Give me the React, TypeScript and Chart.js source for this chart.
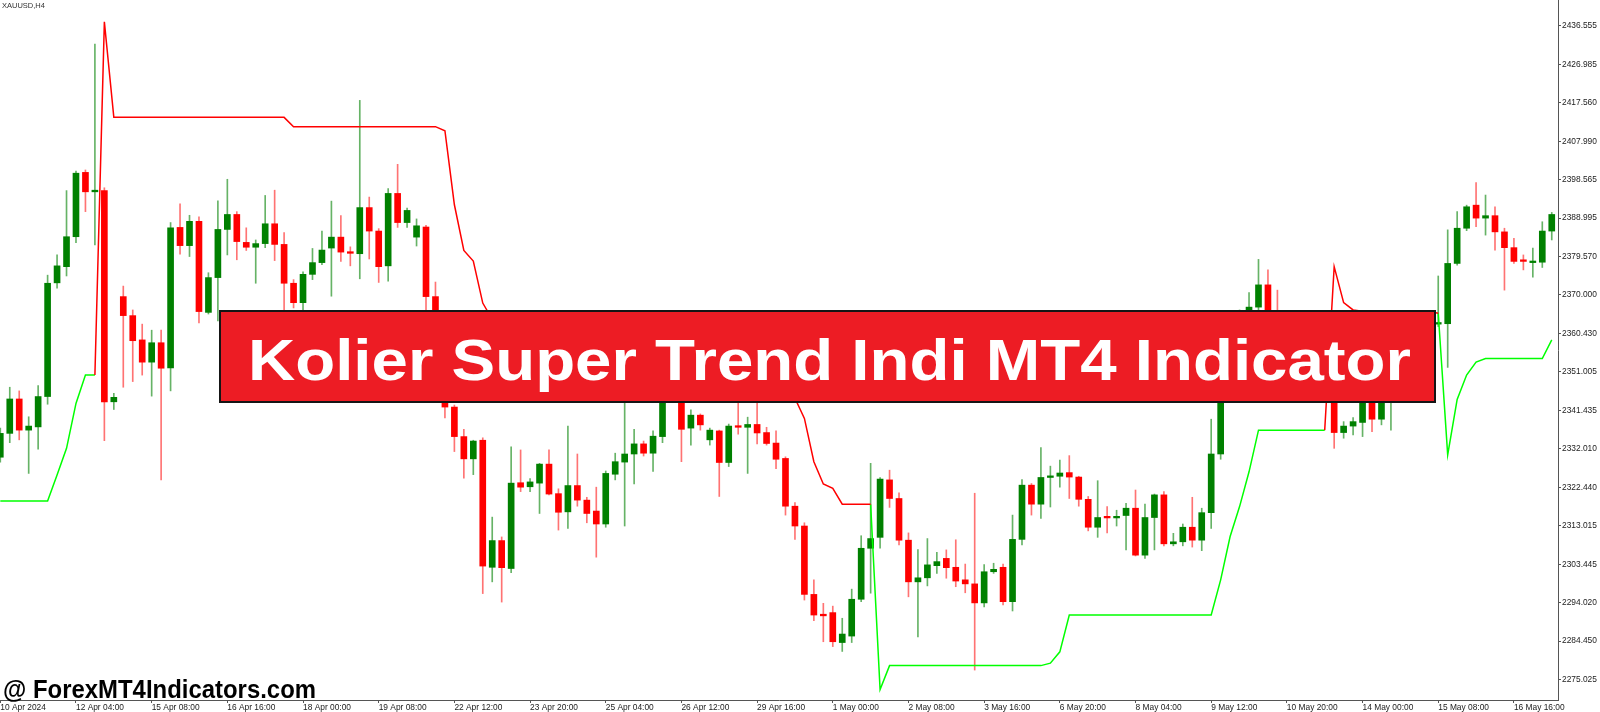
import React, { useEffect, useRef } from "react";
import { Chart, registerables } from "chart.js";

Chart.register(...registerables);

// ---------- DATA (XAUUSD H4 candles) ----------
const barOpen = [
  2329.9, 2335.8, 2344.3, 2336.6, 2337.4, 2344.9, 2373.0, 2377.0, 2384.4, 2400.3,
  2395.5, 2395.8, 2343.6, 2369.6, 2364.9, 2358.9, 2353.4, 2358.2, 2352.0, 2386.7,
  2382.2, 2388.2, 2365.7, 2374.3, 2386.2, 2389.9, 2383.0, 2381.8, 2382.7, 2387.6,
  2382.5, 2372.9, 2368.1, 2375.1, 2378.0, 2381.6, 2384.3, 2380.6, 2380.2, 2391.6,
  2385.8, 2377.2, 2395.1, 2387.9, 2384.3, 2386.8, 2369.6, 2358.9, 2342.3, 2335.0,
  2329.5, 2334.1, 2302.7, 2309.3, 2302.4, 2323.6, 2322.6, 2323.5, 2328.2, 2320.9,
  2316.4, 2322.9, 2319.3, 2316.6, 2313.4, 2325.7, 2328.7, 2330.7, 2333.2, 2330.9,
  2335.0, 2347.8, 2351.9, 2337.1, 2340.3, 2334.2, 2336.4, 2328.6, 2337.6, 2337.3,
  2338.0, 2336.0, 2333.4, 2329.6, 2317.8, 2312.9, 2296.0, 2291.1, 2291.5, 2284.1,
  2285.7, 2294.8, 2307.4, 2310.1, 2324.3, 2319.7, 2309.4, 2299.1, 2300.1, 2303.1,
  2304.9, 2302.7, 2299.6, 2298.6, 2293.9, 2301.6, 2302.7, 2294.2, 2309.6, 2323.0,
  2318.3, 2324.9, 2325.2, 2326.1, 2325.0, 2319.5, 2312.6, 2315.2, 2314.9, 2315.5,
  2317.3, 2305.7, 2315.0, 2320.6, 2308.5, 2309.0, 2312.6, 2309.4, 2316.2, 2330.7,
  2346.5, 2355.2, 2365.1, 2367.0, 2372.5, 2361.3, 2356.4, 2352.7, 2355.9, 2351.0,
  2347.8, 2349.5, 2336.0, 2337.6, 2338.5, 2345.3, 2339.3, 2345.3, 2351.5, 2356.4,
  2353.9, 2359.4, 2362.8, 2362.9, 2377.8, 2386.5, 2392.2, 2389.0, 2389.6, 2385.6,
  2381.7, 2378.5, 2378.0, 2378.1, 2385.8,
];

const barHigh = [
  2337.1, 2347.2, 2346.3, 2339.9, 2347.6, 2374.9, 2379.9, 2395.8, 2400.6, 2400.9,
  2432.0, 2396.5, 2345.7, 2372.2, 2366.3, 2362.8, 2361.3, 2361.3, 2387.9, 2392.5,
  2389.7, 2389.3, 2375.5, 2393.3, 2398.6, 2390.6, 2386.6, 2383.6, 2394.6, 2395.9,
  2385.4, 2373.8, 2375.7, 2381.5, 2385.8, 2393.2, 2389.6, 2381.9, 2418.1, 2394.2,
  2386.4, 2396.3, 2402.3, 2391.5, 2388.8, 2387.2, 2373.2, 2360.1, 2342.8, 2336.8,
  2334.1, 2334.7, 2315.1, 2310.2, 2332.5, 2331.7, 2324.6, 2328.4, 2331.7, 2322.1,
  2337.6, 2330.7, 2320.0, 2322.5, 2326.5, 2330.9, 2344.5, 2336.8, 2333.9, 2336.4,
  2350.2, 2355.2, 2353.9, 2341.6, 2340.6, 2337.1, 2336.6, 2338.1, 2344.5, 2339.8,
  2344.0, 2337.3, 2336.4, 2330.0, 2318.7, 2313.7, 2299.6, 2293.8, 2293.1, 2290.1,
  2297.3, 2310.5, 2328.4, 2324.9, 2326.7, 2321.1, 2311.2, 2307.1, 2309.8, 2306.4,
  2307.0, 2309.5, 2303.5, 2321.0, 2303.4, 2303.7, 2303.5, 2315.6, 2324.4, 2323.4,
  2332.3, 2327.7, 2329.2, 2330.3, 2325.2, 2320.2, 2324.1, 2317.7, 2316.8, 2318.5,
  2321.8, 2318.3, 2320.8, 2321.4, 2311.1, 2313.4, 2320.0, 2317.3, 2339.3, 2347.7,
  2356.4, 2366.3, 2370.6, 2378.8, 2376.2, 2371.2, 2357.6, 2357.6, 2356.9, 2351.9,
  2352.7, 2351.5, 2338.7, 2339.7, 2346.5, 2347.0, 2347.7, 2353.4, 2358.4, 2358.9,
  2361.3, 2364.3, 2374.7, 2386.1, 2390.6, 2392.2, 2397.8, 2394.7, 2391.8, 2386.5,
  2384.0, 2379.9, 2381.6, 2388.1, 2390.4,
];

const barLow = [
  2328.7, 2333.5, 2334.2, 2325.9, 2331.9, 2343.0, 2371.7, 2374.7, 2382.9, 2390.6,
  2382.4, 2334.0, 2341.7, 2347.2, 2348.6, 2350.2, 2345.0, 2324.3, 2346.3, 2380.1,
  2379.5, 2363.1, 2365.3, 2363.6, 2379.9, 2378.7, 2381.0, 2372.9, 2381.7, 2378.5,
  2365.8, 2366.8, 2366.0, 2373.8, 2377.5, 2369.7, 2378.3, 2377.2, 2374.0, 2378.9,
  2373.1, 2373.4, 2386.7, 2386.7, 2382.1, 2365.1, 2356.4, 2339.6, 2331.3, 2324.7,
  2325.6, 2296.2, 2299.1, 2294.1, 2301.4, 2321.4, 2321.4, 2316.0, 2320.6, 2311.9,
  2312.3, 2317.8, 2313.7, 2305.2, 2312.6, 2324.3, 2312.9, 2323.3, 2330.2, 2326.4,
  2333.5, 2346.0, 2328.8, 2332.9, 2336.6, 2332.9, 2320.2, 2327.6, 2335.6, 2325.9,
  2333.2, 2332.9, 2327.1, 2315.6, 2309.6, 2294.6, 2289.5, 2284.3, 2283.1, 2281.9,
  2284.1, 2294.2, 2296.3, 2307.4, 2317.5, 2308.2, 2295.4, 2285.5, 2298.1, 2301.2,
  2300.0, 2297.9, 2296.4, 2277.3, 2292.9, 2301.2, 2293.4, 2291.9, 2308.2, 2315.6,
  2314.8, 2317.6, 2322.5, 2319.7, 2317.8, 2311.7, 2310.1, 2311.2, 2312.9, 2307.0,
  2305.5, 2304.9, 2307.0, 2308.0, 2308.0, 2308.0, 2307.7, 2306.8, 2312.3, 2329.4,
  2345.3, 2353.9, 2363.8, 2365.8, 2358.9, 2353.9, 2351.0, 2351.5, 2349.0, 2346.0,
  2344.5, 2332.1, 2334.6, 2335.4, 2335.0, 2336.2, 2337.9, 2336.6, 2350.2, 2351.9,
  2352.7, 2357.6, 2362.2, 2352.1, 2377.4, 2385.9, 2386.9, 2384.8, 2381.1, 2371.2,
  2377.8, 2376.2, 2374.4, 2376.8, 2383.6,
];

const barClose = [
  2335.8, 2344.3, 2336.6, 2337.6, 2344.9, 2372.9, 2377.2, 2384.4, 2400.1, 2395.5,
  2395.9, 2343.6, 2344.7, 2364.9, 2358.7, 2353.4, 2358.2, 2351.9, 2386.6, 2382.2,
  2388.2, 2365.9, 2374.3, 2386.2, 2389.9, 2383.2, 2381.8, 2382.7, 2387.6, 2382.5,
  2372.9, 2368.1, 2375.1, 2378.0, 2381.1, 2384.3, 2380.6, 2380.3, 2391.6, 2385.8,
  2377.0, 2395.1, 2387.9, 2390.9, 2387.1, 2369.6, 2358.9, 2342.3, 2335.0, 2329.5,
  2333.9, 2303.0, 2309.3, 2302.6, 2323.5, 2322.5, 2323.8, 2328.2, 2320.8, 2316.3,
  2322.9, 2319.3, 2316.0, 2313.4, 2325.9, 2328.8, 2330.7, 2333.2, 2330.9, 2335.1,
  2347.8, 2352.7, 2336.8, 2340.3, 2337.9, 2336.6, 2328.6, 2337.6, 2337.3, 2338.0,
  2335.9, 2333.3, 2329.4, 2317.8, 2312.9, 2296.0, 2290.9, 2290.7, 2284.3, 2286.2,
  2294.8, 2307.4, 2309.8, 2324.5, 2319.7, 2309.4, 2299.1, 2300.1, 2303.3, 2304.1,
  2302.6, 2299.3, 2298.6, 2293.9, 2301.6, 2302.2, 2294.2, 2309.6, 2323.0, 2318.3,
  2324.9, 2325.2, 2326.0, 2325.0, 2319.5, 2312.6, 2315.0, 2314.9, 2315.2, 2317.3,
  2305.7, 2315.0, 2320.6, 2308.5, 2309.0, 2312.6, 2309.4, 2316.2, 2330.7, 2346.5,
  2355.2, 2365.1, 2367.0, 2372.5, 2361.3, 2356.4, 2352.7, 2355.9, 2351.0, 2347.8,
  2349.5, 2336.0, 2337.6, 2338.7, 2345.3, 2339.3, 2346.0, 2351.5, 2356.4, 2353.9,
  2359.4, 2362.8, 2363.1, 2377.8, 2386.5, 2391.8, 2389.0, 2389.6, 2385.6, 2381.7,
  2378.3, 2378.3, 2378.2, 2385.8, 2389.9,
];

// Super Trend (resistance = red, support = green); each segment starts at a bar index
const downTrend1Start = 10;
const downTrend1 = [
  2350.2, 2437.5,
  2413.9, 2413.9, 2413.9, 2413.9, 2413.9, 2413.9, 2413.9, 2413.9, 2413.9, 2413.9,
  2413.9, 2413.9, 2413.9, 2413.9, 2413.9, 2413.9, 2413.9, 2413.9, 2413.9,
  2411.6, 2411.6, 2411.6, 2411.6, 2411.6, 2411.6, 2411.6, 2411.6,
  2411.6, 2411.6, 2411.6, 2411.6, 2411.6, 2411.6, 2411.6, 2411.6,
  2410.6, 2392.3, 2381.0, 2378.4, 2368.0, 2364.0, 2362.0,
  2360.5, 2360.5, 2360.5, 2360.5, 2360.5, 2360.5, 2360.5,
  2357.0, 2357.0, 2357.0, 2357.0, 2357.0, 2357.0, 2357.0, 2357.0, 2357.0, 2357.0,
  2355.0, 2355.0, 2355.0, 2355.0, 2355.0, 2355.0,
  2352.0, 2352.0, 2352.0, 2352.0,
  2349.0, 2349.0,
  2347.0, 2344.5, 2339.5, 2328.8, 2323.3, 2322.2,
  2318.3, 2318.3, 2318.3, 2318.3,
];
const downTrend2Start = 140;
const downTrend2 = [
  2336.6, 2377.0, 2368.1, 2366.3,
  2366.0, 2366.0, 2366.0, 2366.0, 2366.0, 2366.0, 2366.0, 2366.0,
  2365.5,
];
const upTrend1Start = 0;
const upTrend1 = [
  2319.1, 2319.1, 2319.1, 2319.1, 2319.1, 2319.1,
  2325.5, 2332.1, 2343.2, 2350.2, 2350.2,
];
const upTrend2Start = 92;
const upTrend2 = [
  2318.3, 2272.5,
  2278.4, 2278.4, 2278.4, 2278.4, 2278.4, 2278.4, 2278.4, 2278.4, 2278.4,
  2278.4, 2278.4, 2278.4, 2278.4, 2278.4, 2278.4, 2278.4, 2278.4,
  2279.0, 2281.8,
  2290.9, 2290.9, 2290.9, 2290.9, 2290.9, 2290.9, 2290.9, 2290.9,
  2290.9, 2290.9, 2290.9, 2290.9, 2290.9, 2290.9, 2290.9, 2290.9,
  2299.6, 2310.3, 2317.7, 2326.3,
  2336.6, 2336.6, 2336.6, 2336.6, 2336.6, 2336.6, 2336.6, 2336.6,
];
const upTrend3Start = 152;
const upTrend3 = [
  2365.5, 2330.5, 2344.2, 2350.2, 2353.4,
  2354.3, 2354.3, 2354.3, 2354.3, 2354.3, 2354.3, 2354.3,
  2358.9,
];

const timeTickBars = [0, 8, 16, 24, 32, 40, 48, 56, 64, 72, 80, 88, 96, 104, 112, 120, 128, 136, 144, 152, 160];
const timeLabels = [
  "10 Apr 2024", "12 Apr 04:00", "15 Apr 08:00", "16 Apr 16:00", "18 Apr 00:00",
  "19 Apr 08:00", "22 Apr 12:00", "23 Apr 20:00", "25 Apr 04:00", "26 Apr 12:00",
  "29 Apr 16:00", "1 May 00:00", "2 May 08:00", "3 May 16:00", "6 May 20:00",
  "8 May 04:00", "9 May 12:00", "10 May 20:00", "14 May 00:00", "15 May 08:00",
  "16 May 16:00",
];
const priceTicks = [
  2436.555, 2426.985, 2417.56, 2407.99, 2398.565, 2388.995, 2379.57, 2370.0, 2360.43,
  2351.005, 2341.435, 2332.01, 2322.44, 2313.015, 2303.445, 2294.02, 2284.45, 2275.025,
];

const chartTitle = "XAUUSD,H4";
const bannerText = "Kolier Super Trend Indi MT4 Indicator";
const watermarkText = "@ ForexMT4Indicators.com";

const PRICE_MIN = 2269.9;
const PRICE_MAX = 2442.907;
const BAR_MIN = -0.032;
const BAR_MAX = 164.66;

// ---------- STYLE ----------
const BULL = "#008000";
const BEAR = "#ff0000";
const BULL_WICK = "rgba(0,128,0,0.6)";
const BEAR_WICK = "rgba(255,0,0,0.55)";
const AXIS_COLOR = "#555555";
const FONT_FAMILY = '"Liberation Sans", Arial, sans-serif';

const overlayPlugin = {
  id: "mt4Overlay",
  afterDraw(chart: any) {
    const ctx = chart.ctx as CanvasRenderingContext2D;
    ctx.save();
    // symbol title
    ctx.fillStyle = "#333";
    ctx.font = `7.5px ${FONT_FAMILY}`;
    ctx.textAlign = "left";
    ctx.textBaseline = "top";
    ctx.fillText(chartTitle, 2, 2);

    // red banner
    ctx.fillStyle = "#ED1C24";
    ctx.fillRect(219, 310, 1217, 93);
    ctx.lineWidth = 2;
    ctx.strokeStyle = "#151515";
    ctx.strokeRect(220, 311, 1215, 91);

    ctx.font = `bold 58px ${FONT_FAMILY}`;
    const tw = ctx.measureText(bannerText).width;
    ctx.save();
    ctx.translate(829.5, 380);
    ctx.scale(1163 / tw, 1);
    ctx.fillStyle = "#ffffff";
    ctx.textAlign = "center";
    ctx.textBaseline = "alphabetic";
    ctx.fillText(bannerText, 0, 0);
    ctx.restore();

    // watermark
    ctx.font = `bold 25px ${FONT_FAMILY}`;
    const ww = ctx.measureText(watermarkText).width;
    ctx.save();
    ctx.translate(3, 698);
    ctx.scale(313 / ww, 1);
    ctx.fillStyle = "#000000";
    ctx.textAlign = "left";
    ctx.textBaseline = "alphabetic";
    ctx.fillText(watermarkText, 0, 0);
    ctx.restore();

    ctx.restore();
  },
};

export default function App() {
  const ref = useRef<HTMLCanvasElement | null>(null);

  useEffect(() => {
    document.body.style.margin = "0";
    const idx = barOpen.map((_, i) => i);
    const up = idx.map((i) => barClose[i] >= barOpen[i]);
    const bodyData = idx.map((i) => ({ x: i, y: [barOpen[i], barClose[i]] }));
    const wickData = idx.map((i) => ({ x: i, y: [barLow[i], barHigh[i]] }));
    const seg = (start: number, vals: number[]) => vals.map((v, i) => ({ x: start + i, y: v }));

    const lineBase = {
      type: "line" as const,
      pointRadius: 0,
      borderWidth: 1.5,
      tension: 0,
      fill: false,
      order: 0,
    };

    const tickFont = { family: FONT_FAMILY, size: 8.4, lineHeight: 1 };

    const chart = new Chart(ref.current as HTMLCanvasElement, {
      type: "line",
      data: {
        datasets: [
          { ...lineBase, label: "down1", data: seg(downTrend1Start, downTrend1), borderColor: "#ff0000" },
          { ...lineBase, label: "down2", data: seg(downTrend2Start, downTrend2), borderColor: "#ff0000" },
          { ...lineBase, label: "up1", data: seg(upTrend1Start, upTrend1), borderColor: "#00ff00" },
          { ...lineBase, label: "up2", data: seg(upTrend2Start, upTrend2), borderColor: "#00ff00" },
          { ...lineBase, label: "up3", data: seg(upTrend3Start, upTrend3), borderColor: "#00ff00" },
          {
            type: "bar",
            label: "body",
            data: bodyData as any,
            backgroundColor: up.map((u) => (u ? BULL : BEAR)),
            borderWidth: 0,
            barThickness: 6,
            minBarLength: 1.6,
            grouped: false,
            order: 1,
          } as any,
          {
            type: "bar",
            label: "wick",
            data: wickData as any,
            backgroundColor: up.map((u) => (u ? BULL_WICK : BEAR_WICK)),
            borderWidth: 0,
            barThickness: 1,
            grouped: false,
            order: 2,
          } as any,
        ],
      },
      options: {
        responsive: false,
        maintainAspectRatio: false,
        animation: false,
        devicePixelRatio: 1,
        events: [],
        layout: { padding: 0 },
        plugins: { legend: { display: false }, tooltip: { enabled: false }, title: { display: false } },
        scales: {
          x: {
            type: "linear",
            min: BAR_MIN,
            max: BAR_MAX,
            offset: false,
            grid: { display: true, drawOnChartArea: false, drawTicks: true, tickLength: 3, color: AXIS_COLOR, offset: false },
            border: { display: true, color: AXIS_COLOR, width: 1 },
            ticks: {
              autoSkip: false,
              maxRotation: 0,
              minRotation: 0,
              align: "start",
              padding: 0,
              color: "#222",
              font: tickFont,
              callback: (v: any) => {
                const k = timeTickBars.indexOf(Number(v));
                return k >= 0 ? timeLabels[k] : "";
              },
            },
            afterBuildTicks: (s: any) => {
              s.ticks = timeTickBars.map((v) => ({ value: v }));
            },
            afterFit: (s: any) => {
              s.height = 12;
              s.paddingLeft = 0;
              s.paddingRight = 0;
            },
          } as any,
          y: {
            type: "linear",
            position: "right",
            min: PRICE_MIN,
            max: PRICE_MAX,
            grid: { display: true, drawOnChartArea: false, drawTicks: true, tickLength: 3, color: AXIS_COLOR },
            border: { display: true, color: AXIS_COLOR, width: 1 },
            ticks: {
              autoSkip: false,
              padding: 1,
              color: "#222",
              font: tickFont,
              callback: (v: any) => Number(v).toFixed(3),
            },
            afterBuildTicks: (s: any) => {
              s.ticks = priceTicks.map((v) => ({ value: v }));
            },
            afterFit: (s: any) => {
              s.width = 42;
              s.paddingTop = 0;
              s.paddingBottom = 0;
            },
          } as any,
        },
      },
      plugins: [overlayPlugin],
    });
    return () => chart.destroy();
  }, []);

  return (
    <div style={{ position: "absolute", left: 0, top: 0, width: 1600, height: 712, background: "#ffffff" }}>
      <canvas ref={ref} width={1600} height={712} style={{ display: "block", width: 1600, height: 712 }} />
    </div>
  );
}
